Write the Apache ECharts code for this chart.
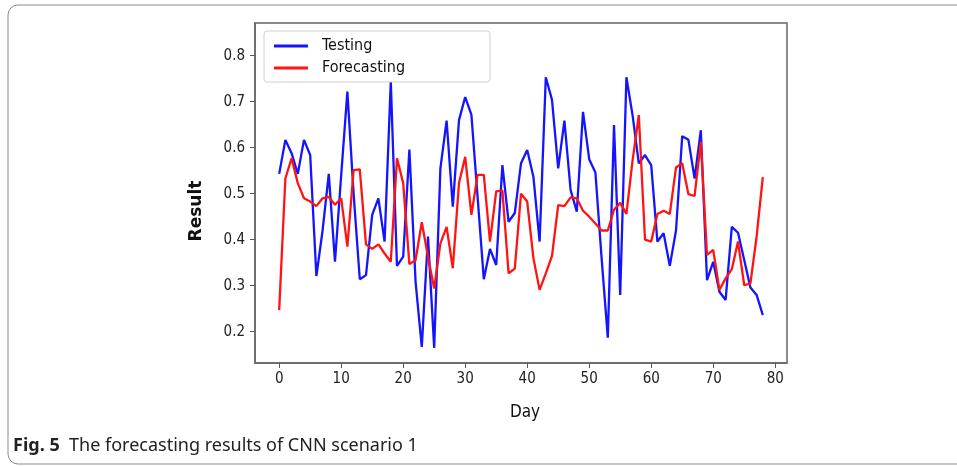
<!DOCTYPE html>
<html><head><meta charset="utf-8">
<script src="https://cdn.jsdelivr.net/npm/echarts@6/dist/echarts.min.js"></script>
<style>html,body{margin:0;padding:0;background:#fff}#c{width:957px;height:467px}</style>
</head><body><div id="c"></div>
<script>
const testing = [0.543,0.617,0.588,0.543,0.617,0.584,0.321,0.42,0.543,0.352,
0.54,0.722,0.50,0.314,0.323,0.454,0.49,0.396,0.743,0.343,
0.363,0.596,0.308,0.167,0.407,0.165,0.555,0.659,0.472,0.66,
0.71,0.672,0.493,0.314,0.38,0.345,0.562,0.439,0.458,0.566,
0.595,0.537,0.396,0.753,0.704,0.555,0.659,0.508,0.461,0.678,
0.575,0.546,0.36,0.187,0.649,0.28,0.753,0.67,0.566,0.584,
0.562,0.396,0.414,0.343,0.42,0.625,0.617,0.533,0.638,0.312,
0.352,0.287,0.269,0.428,0.415,0.356,0.296,0.28,0.236];
const forecasting = [0.247,0.533,0.577,0.523,0.49,0.483,0.473,0.49,0.493,0.476,
0.49,0.385,0.551,0.553,0.39,0.38,0.39,0.37,0.352,0.577,
0.523,0.347,0.356,0.438,0.363,0.294,0.392,0.428,0.338,0.523,
0.58,0.454,0.541,0.541,0.396,0.505,0.507,0.327,0.337,0.5,
0.483,0.36,0.291,0.327,0.365,0.475,0.473,0.492,0.49,0.463,
0.45,0.435,0.42,0.42,0.465,0.48,0.456,0.573,0.671,0.4,
0.396,0.456,0.463,0.456,0.557,0.566,0.499,0.495,0.613,0.367,
0.378,0.291,0.316,0.336,0.396,0.301,0.305,0.407,0.536];
const xTicks = [0,10,20,30,40,50,60,70,80];
const yTicks = [0.2,0.3,0.4,0.5,0.6,0.7,0.8];
const seriesNames = ['Testing','Forecasting'];
const captionBold = 'Fig. 5';
const captionText = 'The forecasting results of CNN scenario 1';
const xName = 'Day', yName = 'Result';

const toPairs = arr => arr.map((v,i)=>[i,v]);
const tickFont = "'DejaVu Sans Condensed','DejaVu Sans',sans-serif";
const chart = echarts.init(document.getElementById('c'), null, {renderer:'canvas'});
chart.setOption({
  animation:false,
  backgroundColor:'#fff',
  grid:{left:255, top:23, width:532, height:340, show:true, borderColor:'#666', borderWidth:1.5, backgroundColor:'transparent'},
  xAxis:{type:'value', min:-3.9, max:81.9, splitLine:{show:false},
    axisLine:{show:true, onZero:false, lineStyle:{color:'#666', width:1.5}},
    axisTick:{show:true, customValues:xTicks, length:5, lineStyle:{color:'#555'}},
    axisLabel:{customValues:xTicks, margin:9, fontSize:15, color:'#222', fontFamily:tickFont}},
  yAxis:{type:'value', min:0.132, max:0.871, splitLine:{show:false},
    axisLine:{show:true, onZero:false, lineStyle:{color:'#666', width:1.5}},
    axisTick:{show:true, customValues:yTicks, length:5, lineStyle:{color:'#555'}},
    axisLabel:{customValues:yTicks, margin:10, fontSize:15, color:'#222', fontFamily:tickFont, formatter:v=>v.toFixed(1)}},
  legend:{data:seriesNames, orient:'vertical', left:269, top:33, itemWidth:34, itemHeight:3, itemGap:6, icon:'rect', z:10,
    textStyle:{fontSize:16, color:'#111', fontFamily:tickFont, padding:[0,0,0,9]}},
  graphic:[
    {type:'rect', z:-10, shape:{x:8, y:5, width:1000, height:459, r:10}, style:{fill:'none', stroke:'#8c8c8c', lineWidth:1}},
    {type:'rect', z:5, shape:{x:264, y:31, width:226, height:51, r:3}, style:{fill:'rgba(255,255,255,0.85)', stroke:'#d0d0d0', lineWidth:1}},
    {type:'text', x:197, y:211, rotation:Math.PI/2, style:{text:yName, font:"bold 17px 'DejaVu Sans',sans-serif", fill:'#111', align:'center', verticalAlign:'middle'}},
    {type:'text', x:525, y:413, style:{text:xName, font:"17px 'DejaVu Sans Condensed','DejaVu Sans',sans-serif", fill:'#111', align:'center', verticalAlign:'middle'}},
    {type:'text', x:13, y:446, style:{text:'{b|'+captionBold+'}  '+captionText, font:"18px 'Noto Sans',sans-serif", fill:'#222', verticalAlign:'middle',
      rich:{b:{fontWeight:'bold', fontSize:18, fontFamily:'Noto Sans', fill:'#222'}}}}
  ],
  series:[
    {name:seriesNames[0], type:'line', data:toPairs(testing), showSymbol:false, lineStyle:{width:2.3, color:'#1414ff'}, itemStyle:{color:'#1414ff'}},
    {name:seriesNames[1], type:'line', data:toPairs(forecasting), showSymbol:false, lineStyle:{width:2.3, color:'#ff1414'}, itemStyle:{color:'#ff1414'}}
  ]
});
</script></body></html>
